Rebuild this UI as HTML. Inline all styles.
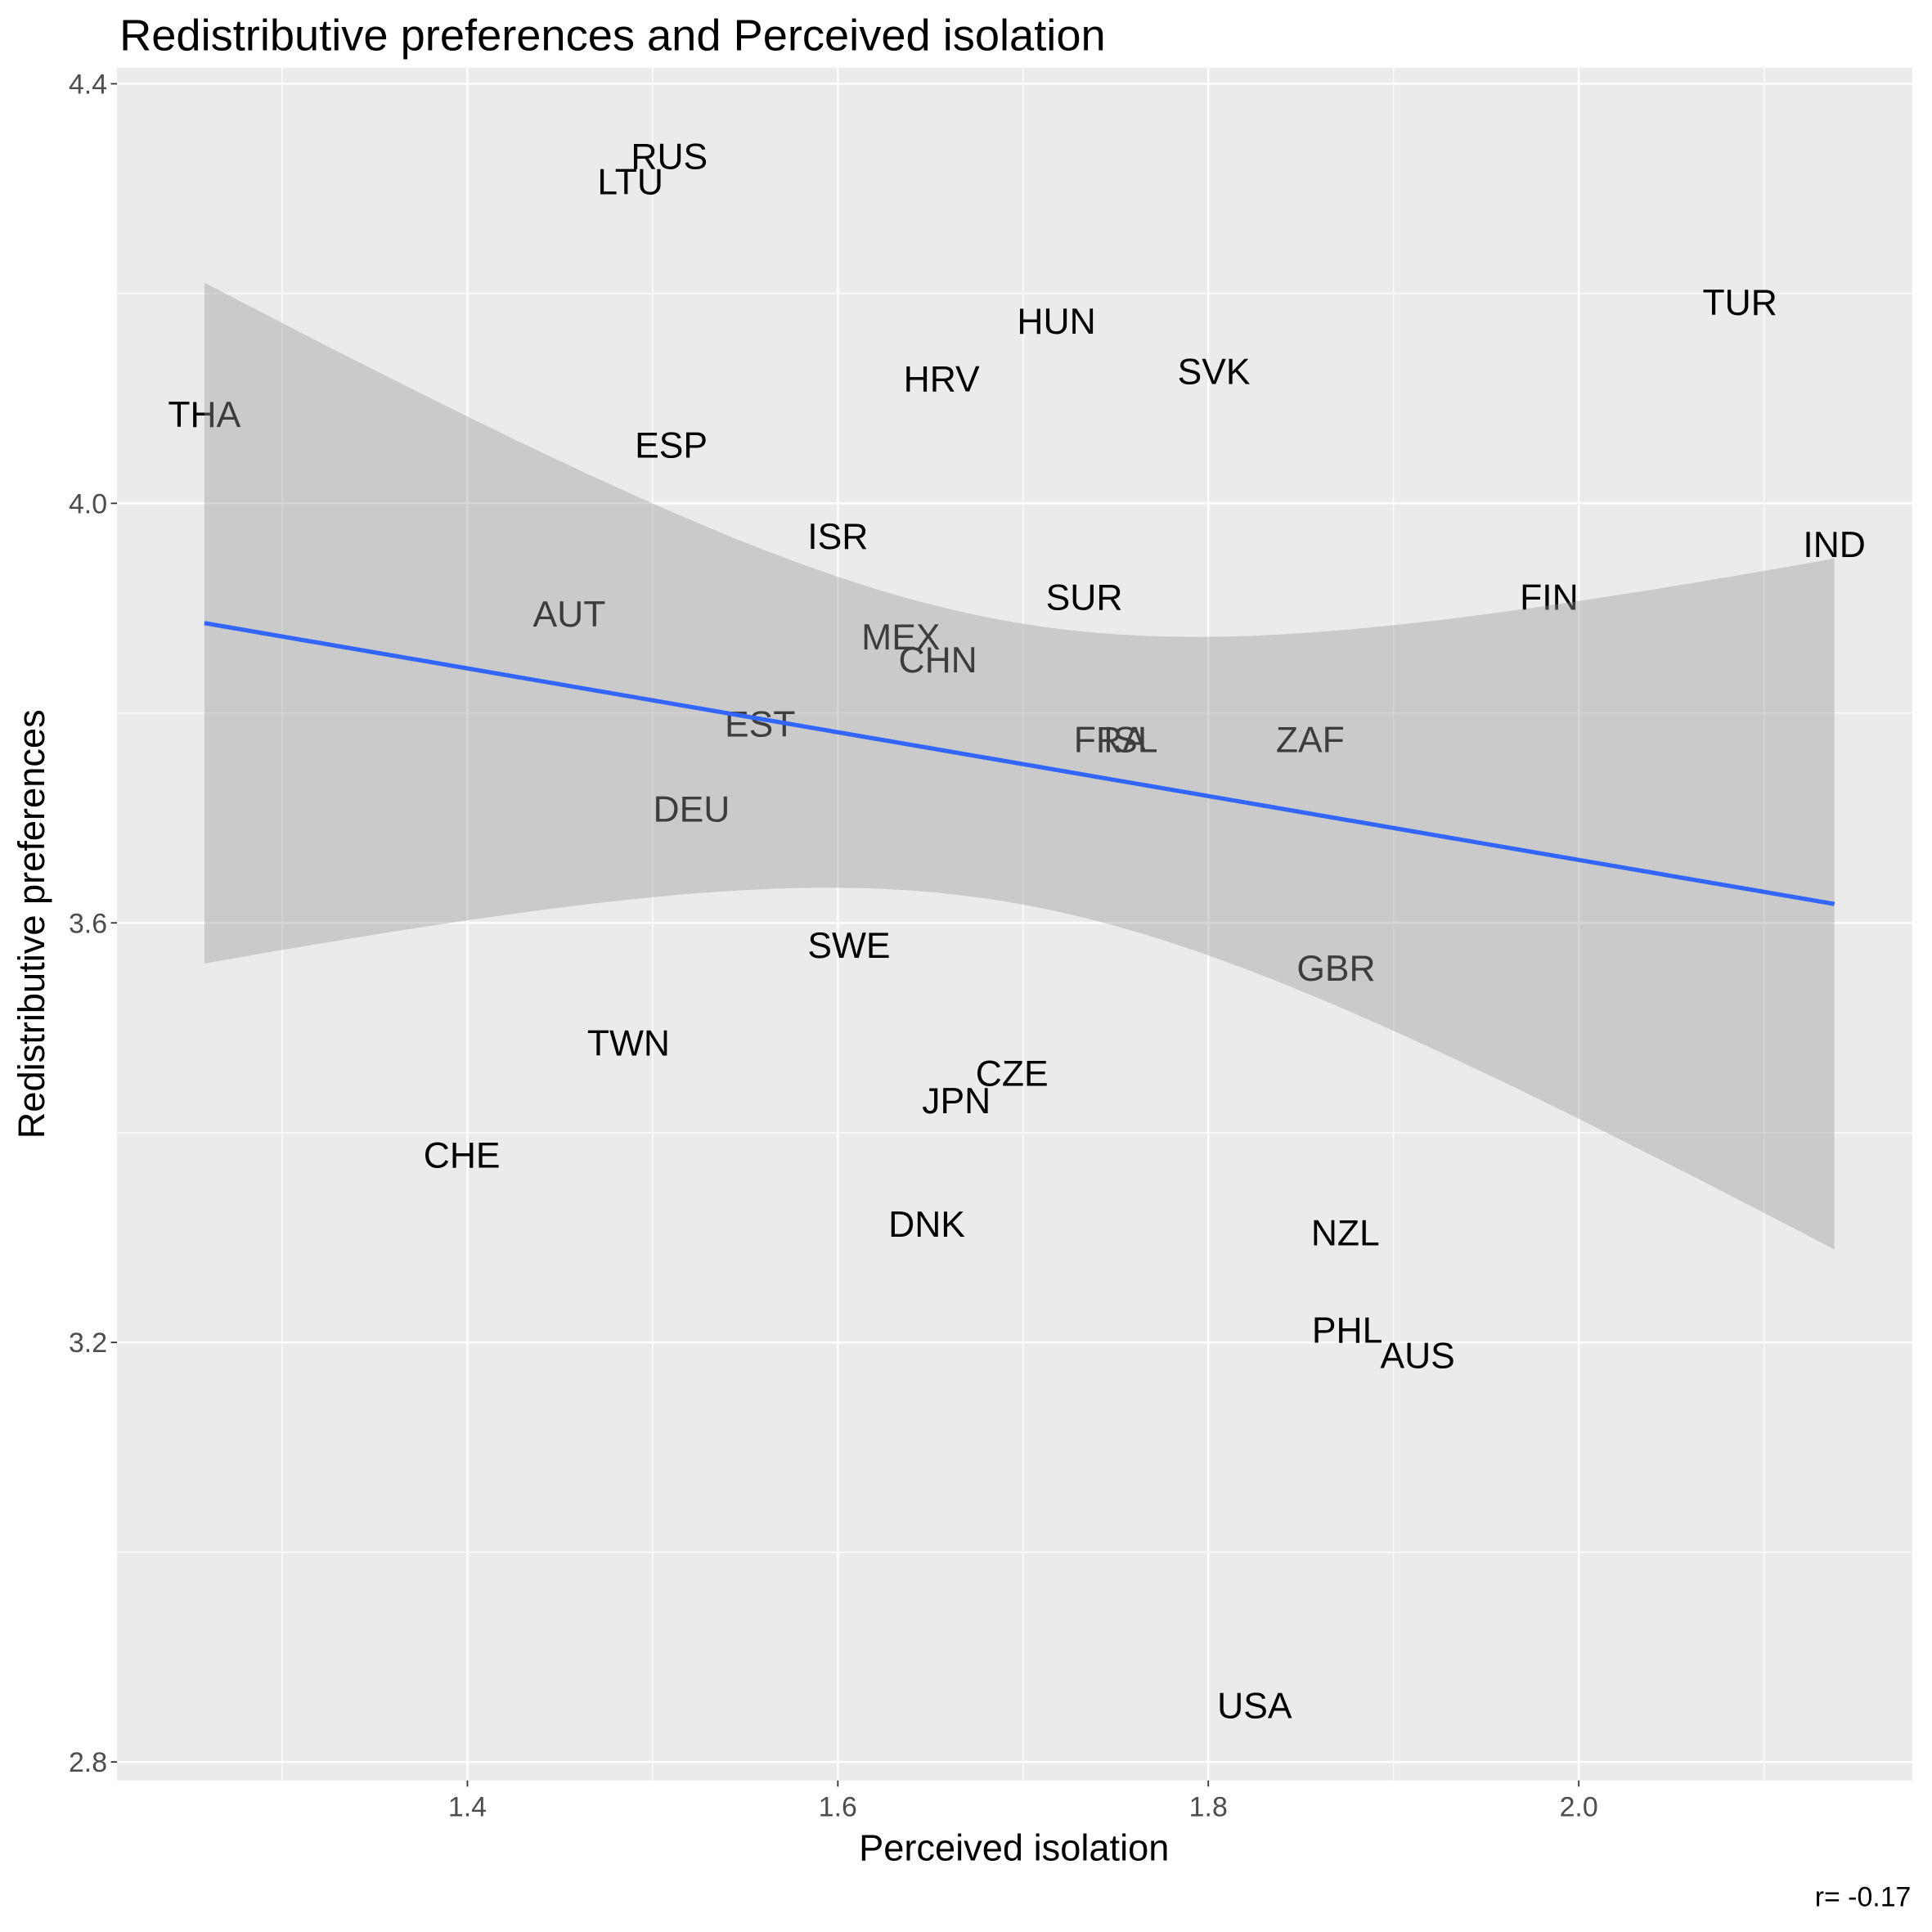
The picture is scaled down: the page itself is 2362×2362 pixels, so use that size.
<!DOCTYPE html>
<html><head><meta charset="utf-8"><style>html,body{margin:0;padding:0;background:#fff}svg{display:block}text{font-family:"Liberation Sans",Arial,sans-serif}</style></head>
<body>
<svg id="chart" width="2362" height="2362" viewBox="0 0 1568 1568" xmlns="http://www.w3.org/2000/svg">
<rect width="1568" height="1568" fill="#fff"/>
<text x="97" y="41" font-size="36" fill="#000">Redistributive preferences and Perceived isolation</text>
<rect x="95" y="55" width="1457" height="1390" fill="#ebebeb"/>
<g id="grid"></g>
<g id="labels"></g>
<g id="ribbon"></g>
<g id="axes"></g>
<text x="823" y="1510" font-size="30" text-anchor="middle" fill="#000">Perceived isolation</text>
<text transform="translate(36,750) rotate(-90)" font-size="30" text-anchor="middle" fill="#000">Redistributive preferences</text>
<text x="1551" y="1547" font-size="22.5" text-anchor="end" fill="#000">r= -0.17</text>
</svg>
<script>
const countries = ["THA","RUS","LTU","HUN","HRV","SVK","TUR","ESP","ISR","IND","SUR","FIN","AUT","MEX","CHN","EST","FRA","ISL","ZAF","DEU","SWE","GBR","TWN","CZE","JPN","CHE","DNK","NZL","PHL","AUS","USA"];
const isolation = [1.258,1.509,1.488,1.718,1.656,1.803,2.087,1.510,1.600,2.138,1.733,1.984,1.455,1.634,1.654,1.558,1.747,1.758,1.855,1.521,1.606,1.869,1.487,1.694,1.664,1.397,1.648,1.874,1.875,1.913,1.825];
const redistribution = [4.085,4.331,4.307,4.174,4.119,4.126,4.192,4.056,3.969,3.961,3.911,3.911,3.895,3.873,3.851,3.790,3.775,3.775,3.775,3.709,3.579,3.557,3.486,3.457,3.431,3.379,3.313,3.305,3.212,3.188,2.854];
const xTicks = [1.4,1.6,1.8,2.0];
const xTickLabels = ["1.4","1.6","1.8","2.0"];
const yTicks = [2.8,3.2,3.6,4.0,4.4];
const yTickLabels = ["2.8","3.2","3.6","4.0","4.4"];
const xMinor = [1.3,1.5,1.7,1.9,2.1];
const yMinor = [3.0,3.4,3.8,4.2];

const NS="http://www.w3.org/2000/svg";
const PL=95,PR=1552,PT=55,PB=1445;
const sx=v=>680+(v-1.6)*1503.3;
const sy=v=>408.5-(v-4.0)*851.25;
function mk(tag,attrs,parent,txt){const e=document.createElementNS(NS,tag);for(const k in attrs)e.setAttribute(k,attrs[k]);if(txt!==undefined)e.textContent=txt;document.getElementById(parent).appendChild(e);return e;}

xMinor.forEach(v=>{const e=mk('line',{x1:sx(v),x2:sx(v),y1:PT,y2:PB,stroke:'#fff','stroke-width':0.8},'grid');

});
yMinor.forEach(v=>{const e=mk('line',{x1:PL,x2:PR,y1:sy(v),y2:sy(v),stroke:'#fff','stroke-width':0.8},'grid');

});
xTicks.forEach((v,i)=>{const e=mk('line',{x1:sx(v),x2:sx(v),y1:PT,y2:PB,stroke:'#fff','stroke-width':1.6},'grid');


const t=mk('line',{x1:sx(v),x2:sx(v),y1:PB,y2:PB+5,stroke:'#333','stroke-width':1.2},'axes');


const l=mk('text',{x:sx(v),y:PB+29,'font-size':22.5,'text-anchor':'middle',fill:'#4d4d4d'},'axes',xTickLabels[i]);

});
yTicks.forEach((v,i)=>{const e=mk('line',{x1:PL,x2:PR,y1:sy(v),y2:sy(v),stroke:'#fff','stroke-width':1.6},'grid');


const t=mk('line',{x1:PL-5,x2:PL,y1:sy(v),y2:sy(v),stroke:'#333','stroke-width':1.2},'axes');


const l=mk('text',{x:PL-8,y:sy(v)+8,'font-size':22.5,'text-anchor':'end',fill:'#4d4d4d'},'axes',yTickLabels[i]);

});

countries.forEach((c,i)=>{const t=mk('text',{x:sx(isolation[i]),y:sy(redistribution[i])+10.5,'font-size':29.5,'text-anchor':'middle',fill:'#000'},'labels',c);

});

const n=isolation.length;
const mx=isolation.reduce((a,b)=>a+b,0)/n, my=redistribution.reduce((a,b)=>a+b,0)/n;
let sxx=0,sxy=0;for(let i=0;i<n;i++){sxx+=(isolation[i]-mx)**2;sxy+=(isolation[i]-mx)*(redistribution[i]-my);}
const b=sxy/sxx,a=my-b*mx;
let sse=0;for(let i=0;i<n;i++)sse+=(redistribution[i]-a-b*isolation[i])**2;
const s=Math.sqrt(sse/(n-2)),tq=2.045;
const x0=Math.min(...isolation),x1=Math.max(...isolation);
const up=[],lo=[];
for(let k=0;k<=80;k++){const x=x0+(x1-x0)*k/80;const yh=a+b*x;const se=s*Math.sqrt(1/n+(x-mx)**2/sxx);
up.push(sx(x).toFixed(1)+','+sy(yh+tq*se).toFixed(1));lo.unshift(sx(x).toFixed(1)+','+sy(yh-tq*se).toFixed(1));}
const rb=mk('polygon',{points:up.concat(lo).join(' '),fill:'#999','fill-opacity':0.4},'ribbon');


const fl=mk('line',{x1:sx(x0),y1:sy(a+b*x0),x2:sx(x1),y2:sy(a+b*x1),stroke:'#3366ff','stroke-width':3.5},'ribbon');


</script>
</body></html>
